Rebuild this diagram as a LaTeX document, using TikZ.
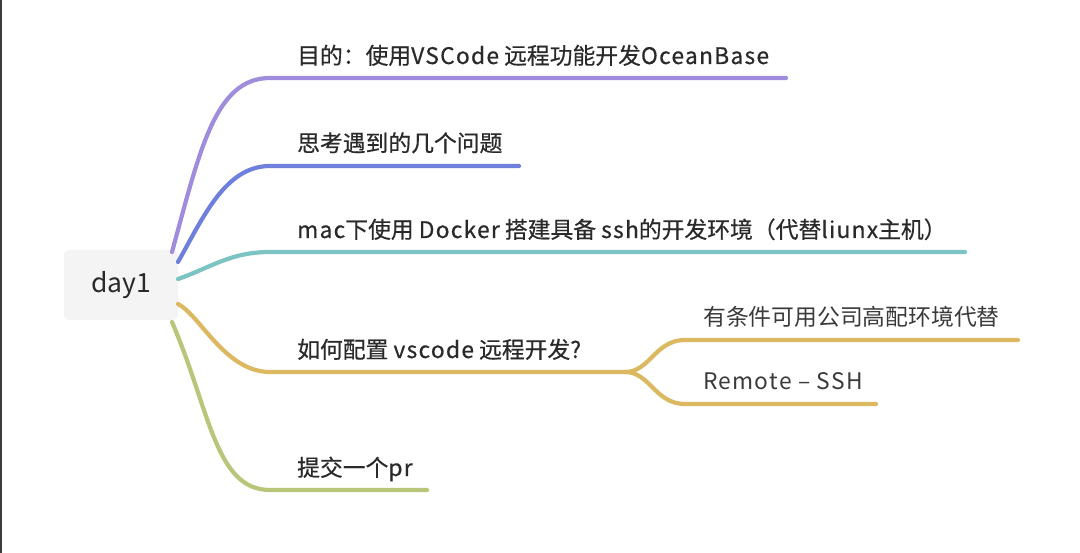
\documentclass[tikz,border=0pt]{standalone}
\usepackage{fontspec}
\setmainfont{Noto Sans CJK SC}
\newfontfamily\mainbr[FakeBold=0.5]{Noto Sans CJK SC}
\newcommand{\lat}[1]{{\addfontfeature{LetterSpace=5.5}#1}}
\definecolor{cpurple}{HTML}{A08CDC}
\definecolor{cblue}{HTML}{6E80DC}
\definecolor{cteal}{HTML}{7CC4C4}
\definecolor{cgold}{HTML}{DCB860}
\definecolor{cgreen}{HTML}{B8C67A}
\definecolor{rootfill}{HTML}{F4F4F5}
\definecolor{txtmain}{HTML}{2A2A2A}
\definecolor{txtsub}{HTML}{3A3A3A}
\definecolor{edgeline}{HTML}{3C3C3C}
\begin{document}
\begin{tikzpicture}[x=1pt,y=-1pt,
  branch/.style={line width=4.2pt,line cap=round},
  maintext/.style={anchor=base west,inner sep=0pt,text=txtmain,font=\mainbr\fontsize{22.8}{24}\selectfont},
  subtext/.style={anchor=base west,inner sep=0pt,text=txtsub,font=\fontsize{22.8}{24}\selectfont},
  rootbox/.style={fill=rootfill,rounded corners=6pt,minimum width=114pt,minimum height=70pt,inner sep=0pt,text=txtmain,font=\fontsize{26.5}{28}\selectfont}]
\useasboundingbox (0,0) rectangle (1080,553);
\fill[white] (0,0) rectangle (1080,553);
\fill[edgeline] (0,0) rectangle (2,553);
% root
\node[rootbox] (root) at (121,285) {day1};
% texts
\node[maintext] (t1) at (297,64) {目的：使用\lat{VSCode} 远程功能开发\lat{OceanBase}};
\node[maintext] (t2) at (297,151.5) {思考遇到的几个问题};
\node[maintext] (t3) at (297,238) {\lat{mac}下使用 \lat{Docker} 搭建具备 \lat{ssh}的开发环境（代替\lat{liunx}主机）};
\node[maintext] (t4) at (297,358) {如何配置 \lat{vscode} 远程开发\lat{?}};
\node[maintext] (t5) at (297,476) {提交一个\lat{pr}};
\node[subtext] (c1) at (703,326) {有条件可用公司高配环境代替};
\node[subtext] (c2) at (703,390) {\lat{Remote – SSH}};
% coordinates
\coordinate (s1) at (172,252);
\coordinate (s2) at (178,262);
\coordinate (s3) at (178,279);
\coordinate (s4) at (178,304);
\coordinate (s5) at (172,322);
\coordinate (h1) at (270,78);
\coordinate (e1) at (786,78);
\coordinate (h2) at (270,166);
\coordinate (e2) at (519,166);
\coordinate (h3) at (270,252);
\coordinate (e3) at (965,252);
\coordinate (h4) at (270,372);
\coordinate (j4) at (625,372);
\coordinate (h5) at (270,490);
\coordinate (e5) at (427,490);
\coordinate (hc1) at (685,340);
\coordinate (ec1) at (1018,340);
\coordinate (hc2) at (685,404);
\coordinate (ec2) at (876,404);
% branches
\draw[branch,cpurple] (s1) .. controls (200,150) and (215,78) .. (h1) -- (e1);
\draw[branch,cblue] (s2) .. controls (203,218) and (225,166) .. (h2) -- (e2);
\draw[branch,cteal] (s3) .. controls (210,268) and (230,252) .. (h3) -- (e3);
\draw[branch,cgold] (s4) .. controls (200,315) and (225,372) .. (h4) -- (j4);
\draw[branch,cgreen] (s5) .. controls (210,410) and (215,490) .. (h5) -- (e5);
\draw[branch,cgold] (j4) .. controls (650,372) and (655,340) .. (hc1) -- (ec1);
\draw[branch,cgold] (j4) .. controls (650,372) and (655,404) .. (hc2) -- (ec2);
\end{tikzpicture}
\end{document}
